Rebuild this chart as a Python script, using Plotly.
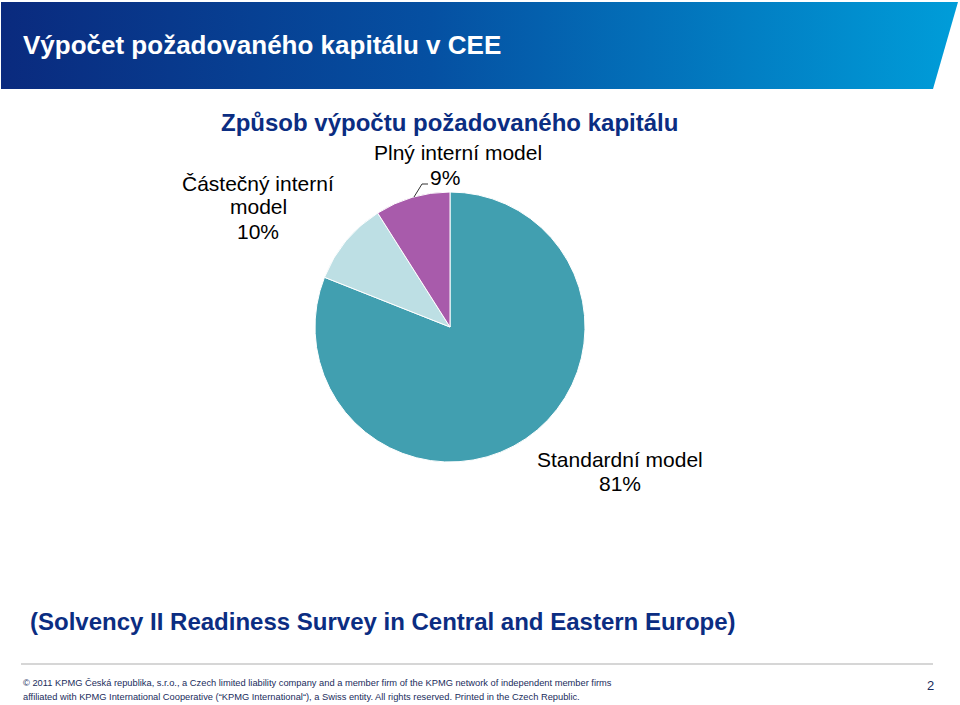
import plotly.graph_objects as go

# Data
categories = ["Standardní model", "Částečný interní model", "Plný interní model"]
values = [81, 10, 9]
colors = ["#419FB0", "#BDDFE4", "#A85BAB"]

slide_title = "Výpočet požadovaného kapitálu v CEE"
chart_title = "Způsob výpočtu požadovaného kapitálu"
subtitle = "(Solvency II Readiness Survey in Central and Eastern Europe)"
footer1 = "© 2011 KPMG Česká republika, s.r.o., a Czech limited liability company and a member firm of the KPMG network of independent member firms"
footer2 = "affiliated with KPMG International Cooperative (“KPMG International“), a Swiss entity. All rights reserved. Printed in the Czech Republic."

W, H = 960, 705
FONT = "Liberation Sans, Arial, sans-serif"

fig = go.Figure()

# Header banner with gradient (slanted right edge)
fig.add_trace(go.Scatter(
    x=[1, 958, 933, 1, 1], y=[2, 2, 89, 89, 2],
    mode="lines", line=dict(width=0), fill="toself",
    fillgradient=dict(type="horizontal",
                      colorscale=[[0, "#0A2A7E"], [0.45, "#0550A2"], [1, "#009DD9"]]),
    hoverinfo="skip", showlegend=False, xaxis="x", yaxis="y"))

# Pie
cx, cy, r = 450, 327, 135
fig.add_trace(go.Pie(
    labels=categories, values=values, sort=False, direction="clockwise", rotation=0,
    marker=dict(colors=colors, line=dict(color="white", width=1)),
    textinfo="none", hoverinfo="label+percent", showlegend=False,
    domain=dict(x=[(cx - r) / W, (cx + r) / W], y=[(H - cy - r) / H, (H - cy + r) / H])))

fig.update_layout(
    width=W, height=H, margin=dict(l=0, r=0, t=0, b=0),
    paper_bgcolor="white", plot_bgcolor="rgba(0,0,0,0)",
    xaxis=dict(range=[0, W], visible=False, domain=[0, 1], fixedrange=True),
    yaxis=dict(range=[H, 0], visible=False, domain=[0, 1], fixedrange=True),
    showlegend=False,
)

def txt(x, y, text, size, color="black", bold=False, xanchor="center"):
    t = f"<b>{text}</b>" if bold else text
    fig.add_annotation(x=x, y=y, xref="x", yref="y", text=t, showarrow=False,
                       xanchor=xanchor, yanchor="middle",
                       font=dict(family=FONT, size=size, color=color))

txt(21, 45, slide_title, 26, "white", True, "left")
txt(449, 122, chart_title, 24, "#0B2D82", True)

pct = [f"{v}%" for v in values]
txt(620, 459, categories[0], 21)
txt(620, 483, pct[0], 21)
txt(258, 183, "Částečný interní", 21)
txt(258, 206, "model", 21)
txt(258, 231, pct[1], 21)
txt(458, 152, categories[2], 21)
txt(445, 177, pct[2], 21)

# leader line for small slice
fig.add_shape(type="path", path="M 414 197 L 422 184 L 428 184", xref="x", yref="y",
              line=dict(color="#333333", width=1))

txt(28, 621, subtitle, 24, "#0B2D82", True, "left")

# footer
fig.add_shape(type="line", x0=21, x1=933, y0=664, y1=664, xref="x", yref="y",
              line=dict(color="#C8C8C8", width=1.5))
txt(21, 683, footer1, 9.3, "#1A2C5C", False, "left")
txt(21, 697, footer2, 9.3, "#1A2C5C", False, "left")
txt(930, 685, "2", 13, "#1A2C5C", False)

fig.write_html("out.html")
